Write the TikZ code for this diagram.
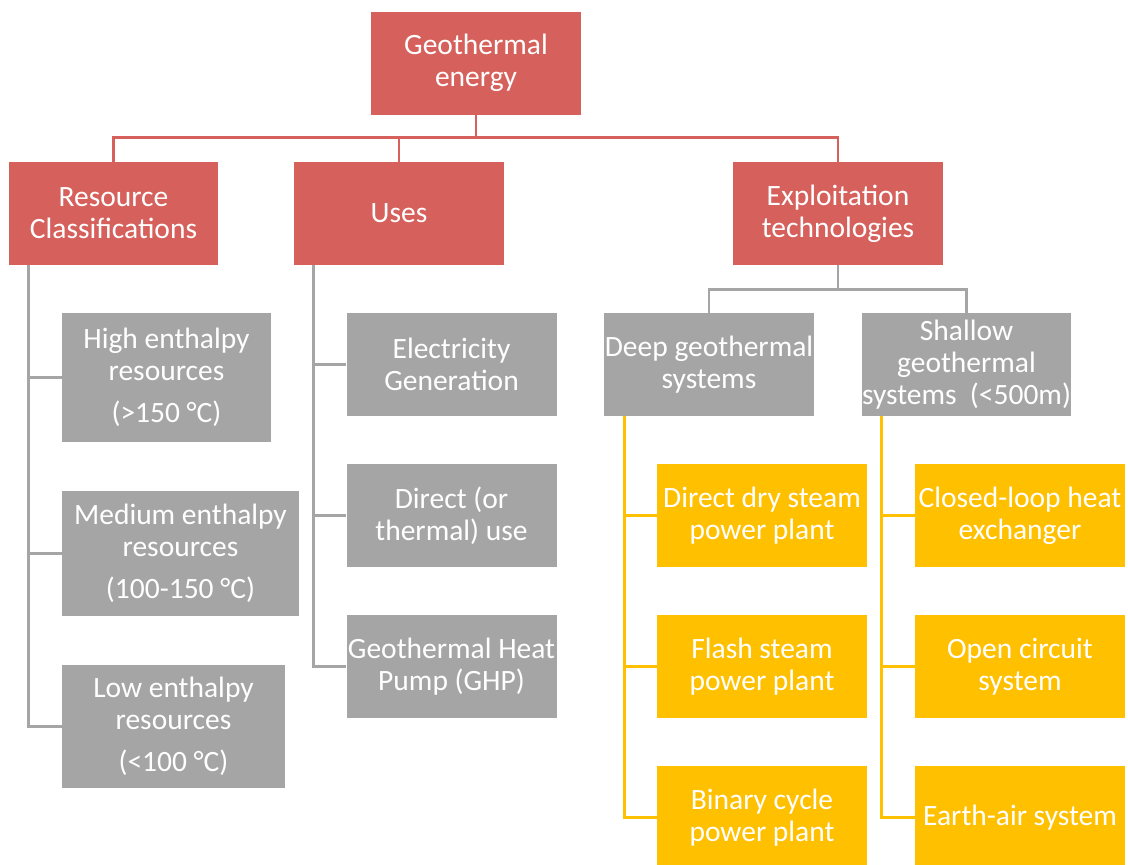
\documentclass[tikz,border=0pt]{standalone}
\usepackage{fontspec}
\setmainfont{Carlito}
\definecolor{g_red}{HTML}{D6615C}
\definecolor{g_grey}{HTML}{A5A5A5}
\definecolor{g_yellow}{HTML}{FFC000}
\usetikzlibrary{positioning}

\begin{document}
\begin{tikzpicture}[
        x=1pt, y=-1pt,
        box/.style={rectangle, text=white, align=center, inner sep=0pt,
            font=\fontsize{29.5}{32}\selectfont},
        redbox/.style={box, fill=g_red, minimum width=210, minimum height=103},
        greybox/.style={box, fill=g_grey, minimum width=210, minimum height=103},
        yellowbox/.style={box, fill=g_yellow, minimum width=210, minimum height=103},
        redline/.style={draw=g_red, line width=2.8pt},
        greyline/.style={draw=g_grey, line width=2.8pt},
        yellowline/.style={draw=g_yellow, line width=2.8pt}
    ]
        \useasboundingbox (0,0) rectangle (1128,865);

        % top level
        \node[redbox] (geo) at (476,63) {Geothermal\\energy};
        \node[redbox, minimum width=209] (res) at (113.5,213.5) {Resource\\Classifications};
        \node[redbox] (uses) at (399,213.5) {Uses};
        \node[redbox] (expl) at (838,213.5) {Exploitation\\technologies};

        % resource classifications
        \node[greybox, minimum width=209, minimum height=129] (high) at (166.5,377.5)
            {High enthalpy\\resources\\[10pt](>150 °C)};
        \node[greybox, minimum width=237, minimum height=125] (medium) at (180.5,553.5)
            {Medium enthalpy\\resources\\[10pt](100-150 °C)};
        \node[greybox, minimum width=223, minimum height=123] (low) at (173.5,726.5)
            {Low enthalpy\\resources\\[10pt](<100 °C)};

        % uses
        \node[greybox] (elec) at (451.5,364.5) {Electricity\\Generation};
        \node[greybox] (direct) at (451.5,515.5) {Direct (or\\thermal) use};
        \node[greybox] (ghp) at (451.5,666.5) {Geothermal Heat\\Pump (GHP)};

        % exploitation technologies
        \node[greybox] (deep) at (709,364.5) {Deep geothermal\\systems};
        \node[greybox, minimum width=209] (shallow) at (966.5,364.5)
            {Shallow\\geothermal\\systems\ \ (<500m)};
        \node[yellowbox] (dry) at (762,515.5) {Direct dry steam\\power plant};
        \node[yellowbox] (flash) at (762,666.5) {Flash steam\\power plant};
        \node[yellowbox] (binary) at (762,817.5) {Binary cycle\\power plant};
        \node[yellowbox] (closed) at (1020,515.5) {Closed-loop heat\\exchanger};
        \node[yellowbox] (open) at (1020,666.5) {Open circuit\\system};
        \node[yellowbox] (earth) at (1020,817.5) {Earth-air system};

        % connectors
        \draw[redline] (geo.south) -- ++(0,23) coordinate (rj) -| (res.north);
        \draw[redline] (rj) -| (uses.north);
        \draw[redline] (rj) -| (expl.north);
        \draw[greyline] (expl.south) -- ++(0,24) coordinate (ej) -| (deep.north);
        \draw[greyline] (ej) -| (shallow.north);
        \foreach \n in {high,medium,low}
            \draw[greyline] ([xshift=20pt]res.south west) |- (\n.west);
        \foreach \n in {elec,direct,ghp}
            \draw[greyline] ([xshift=20pt]uses.south west) |- (\n.west);
        \foreach \n in {dry,flash,binary}
            \draw[yellowline] ([xshift=21pt]deep.south west) |- (\n.west);
        \foreach \n in {closed,open,earth}
            \draw[yellowline] ([xshift=20pt]shallow.south west) |- (\n.west);
    \end{tikzpicture}
\end{document}
